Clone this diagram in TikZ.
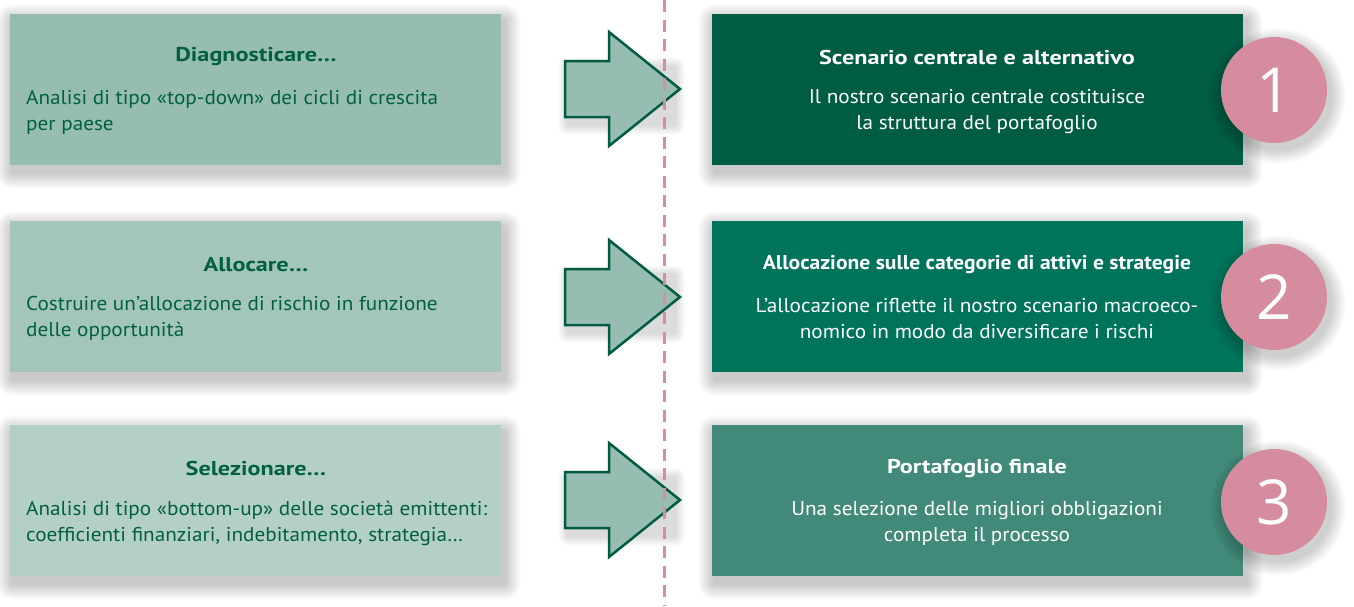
\documentclass[tikz,border=0pt]{standalone}
\usepackage{fontspec}
\setmainfont{PT Sans}
\newfontfamily\bodyfont[FakeStretch=1.06]{PT Sans}
\newfontfamily\ttlfont[FakeStretch=1.21]{PT Sans Bold}
\newfontfamily\ttlnarrow[FakeStretch=1.08]{PT Sans Bold}
\newfontfamily\numfont{Open Sans}
\usetikzlibrary{backgrounds}
\definecolor{lboxA}{HTML}{97BCB2}
\definecolor{lboxB}{HTML}{A4C5BB}
\definecolor{lboxC}{HTML}{B4CFC7}
\definecolor{rboxA}{HTML}{005C42}
\definecolor{rboxB}{HTML}{00735B}
\definecolor{rboxC}{HTML}{418A79}
\definecolor{txtgreen}{HTML}{00603F}
\definecolor{pinkc}{HTML}{D48C9E}
\definecolor{dashpink}{HTML}{D88CA4}
\begin{document}
\begin{tikzpicture}[x=1pt,y=-1pt,
  lbox/.style={rectangle,inner sep=0pt,minimum width=491pt,minimum height=151pt},
  rbox/.style={rectangle,inner sep=0pt,minimum width=531pt,minimum height=151pt},
  ltitle/.style={font=\ttlfont\fontsize{20}{24}\selectfont,text=txtgreen,inner sep=0pt},
  lbody/.style={font=\bodyfont\fontsize{20}{26}\selectfont,text=txtgreen,align=left,inner sep=0pt,anchor=west},
  rtitle/.style={font=\ttlfont\fontsize{20}{24}\selectfont,text=white,inner sep=0pt},
  rbody/.style={font=\bodyfont\fontsize{20}{26}\selectfont,text=white,align=center,inner sep=0pt},
  num/.style={circle,fill=pinkc,minimum size=106pt,inner sep=0pt,text=white,font=\numfont\fontsize{62}{62}\selectfont},
  bigarrow/.style={fill=lboxA,draw=rboxA,line width=2.5pt,line join=miter},
  shadelayer/.style={fill=black,fill opacity=0.022}
]
\useasboundingbox (0,0) rectangle (1354,606);

% left boxes
\node[lbox,fill=lboxA] (L1) at (255.5,89.5) {};
\node[lbox,fill=lboxB] (L2) at (255.5,296.5) {};
\node[lbox,fill=lboxC] (L3) at (255.5,500.5) {};

\node[ltitle] (L1t) at (256,57) {Diagnosticare…};
\node[lbody] (L1b) at (26,112) {Analisi di tipo «top-down» dei cicli di crescita\\per paese};
\node[ltitle] (L2t) at (256,265) {Allocare…};
\node[lbody] (L2b) at (26,318) {Costruire un’allocazione di rischio in funzione\\delle opportunità};
\node[ltitle] (L3t) at (256,468) {Selezionare…};
\node[lbody] (L3b) at (26,523) {Analisi di tipo «bottom-up» delle società emittenti:\\coefficienti finanziari, indebitamento, strategia…};

% right boxes
\node[rbox,fill=rboxA] (R1) at (977.5,89.5) {};
\node[rbox,fill=rboxB] (R2) at (977.5,296.5) {};
\node[rbox,fill=rboxC] (R3) at (977.5,500.5) {};

\begin{scope}[on background layer]
  \fill[white] (0,0) rectangle (1354,606);
  \foreach \n in {L1,L2,L3,R1,R2,R3}{
    \foreach \i in {1,...,9}{
      \pgfmathsetmacro{\e}{\i*1.8}
      \fill[shadelayer,rounded corners=\e pt] ([shift={(3-\e,7-\e)}]\n.north west) rectangle ([shift={(3+\e,7+\e)}]\n.south east);
    }
  }
  \foreach \c in {89,297,500}{
    \foreach \i in {1,...,6}{
      \pgfmathsetmacro{\e}{\i*1.6}
      \fill[shadelayer,rounded corners=\e pt] (568-\e,\c-22-\e) rectangle (675+\e,\c+36+\e);
    }
  }
\end{scope}

% arrows
\foreach \c in {89,297,500}{
  \draw[bigarrow] (565,\c-28) -- (609,\c-28) -- (609,\c-57) -- (680,\c) -- (609,\c+57) -- (609,\c+28) -- (565,\c+28) -- cycle;
}

% dashed divider (on top of the arrows)
\draw[dashpink,line width=3pt,dash pattern=on 12pt off 7.5pt] (664,0) -- (664,606);

\node[rtitle] (R1t) at (977,57) {Scenario centrale e alternativo};
\node[rbody] (R1b) at (977,112) {Il nostro scenario centrale costituisce\\la struttura del portafoglio};
\node[rtitle,font=\ttlnarrow\fontsize{20}{24}\selectfont] (R2t) at (977,265) {Allocazione sulle categorie di attivi e strategie};
\node[rbody] (R2b) at (977,318) {L’allocazione riflette il nostro scenario macroeco-\\nomico in modo da diversificare i rischi};
\node[rtitle] (R3t) at (977,468) {Portafoglio finale};
\node[rbody] (R3b) at (977,523) {Una selezione delle migliori obbligazioni\\completa il processo};

% circle shadows
\foreach \c in {90,297,502}{
  \foreach \i in {1,...,8}{
    \fill[shadelayer] (1278,\c+6) circle (53+\i*1.8);
  }
}
% number circles
\node[num] (N1) at (1274,90) {1};
\node[num] (N2) at (1274,297) {2};
\node[num] (N3) at (1274,502) {3};
\end{tikzpicture}
\end{document}
